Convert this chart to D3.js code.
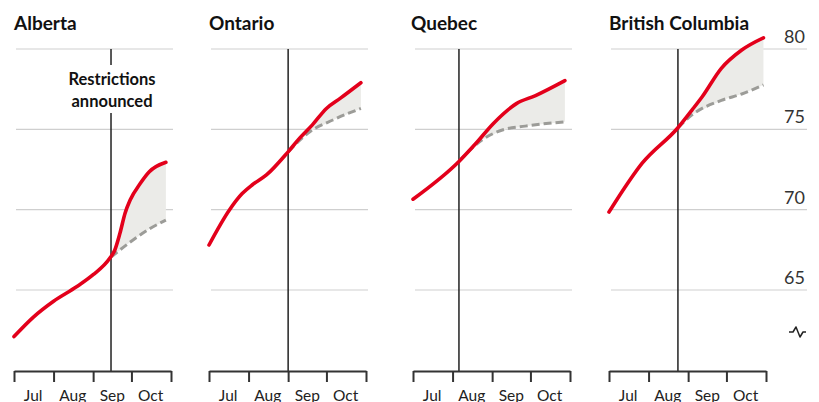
<!DOCTYPE html>
<html><head><meta charset="utf-8">
<script src="https://cdn.jsdelivr.net/npm/d3@7"></script>
<style>
body{margin:0;background:#fff;}
svg{display:block;}
</style></head>
<body>
<svg id="chart" width="819" height="402"></svg>
<script>
const provinces = ["Alberta", "Ontario", "Quebec", "British Columbia"];
const announceDates = ["2021-09-15", "2021-09-01", "2021-08-06", "2021-08-24"];
const monthLabels = ["Jul", "Aug", "Sep", "Oct"];
const yTicks = [65, 70, 75, 80];

const albertaActualDates = ["2021-07-01","2021-07-16","2021-08-01","2021-08-19","2021-09-01","2021-09-14","2021-09-18","2021-09-22","2021-09-26","2021-09-30","2021-10-08","2021-10-15","2021-10-28"];
const albertaActual = [62.1, 63.3, 64.3, 65.2, 65.95, 66.97, 67.49, 68.53, 69.78, 70.6, 71.64, 72.36, 72.95];
const albertaProjDates = ["2021-09-15","2021-10-02","2021-10-15","2021-10-28"];
const albertaProj = [67.05, 68.1, 68.8, 69.35];

const ontarioActualDates = ["2021-07-01","2021-07-17","2021-07-27","2021-08-04","2021-08-15","2021-09-01","2021-09-10","2021-09-20","2021-10-01","2021-10-12","2021-10-28"];
const ontarioActual = [67.8, 69.98, 71.0, 71.55, 72.16, 73.6, 74.45, 75.28, 76.3, 76.94, 77.9];
const ontarioProjDates = ["2021-09-01","2021-09-18","2021-10-06","2021-10-28"];
const ontarioProj = [73.6, 74.85, 75.58, 76.3];

const quebecActualDates = ["2021-07-01","2021-08-06","2021-08-19","2021-09-02","2021-09-20","2021-10-05","2021-10-28"];
const quebecActual = [70.65, 73.0, 74.1, 75.37, 76.6, 77.1, 78.03];
const quebecProjDates = ["2021-08-06","2021-08-24","2021-09-09","2021-09-27","2021-10-28"];
const quebecProj = [73.0, 74.34, 74.96, 75.2, 75.47];

const bcActualDates = ["2021-07-01","2021-07-07","2021-07-27","2021-08-24","2021-09-04","2021-09-12","2021-09-27","2021-10-13","2021-10-30"];
const bcActual = [69.85, 70.6, 72.89, 75.1, 76.2, 77.03, 78.8, 79.94, 80.7];
const bcProjDates = ["2021-08-24","2021-09-04","2021-09-27","2021-10-13","2021-10-30"];
const bcProj = [75.1, 75.9, 76.8, 77.2, 77.76];

const actualDates = [albertaActualDates, ontarioActualDates, quebecActualDates, bcActualDates];
const actualVals = [albertaActual, ontarioActual, quebecActual, bcActual];
const projDates = [albertaProjDates, ontarioProjDates, quebecProjDates, bcProjDates];
const projVals = [albertaProj, ontarioProj, quebecProj, bcProj];

const parse = d3.timeParse("%Y-%m-%d");
const svg = d3.select("#chart");
const panelX = [14, 209, 413, 609];
const panelW = 157;
const y = d3.scaleLinear().domain([65, 80]).range([290, 49]);
const axisY = 371;
const monthStarts = ["2021-07-01","2021-08-01","2021-09-01","2021-10-01","2021-11-01"].map(parse);
const monthMids = ["2021-07-16","2021-08-16","2021-09-16","2021-10-16"].map(parse);

const titleFont = "Lato, 'Open Sans', sans-serif";

provinces.forEach((name, i) => {
  const x0 = panelX[i];
  const x = d3.scaleTime().domain([monthStarts[0], monthStarts[4]]).range([x0, x0 + panelW]);
  const g = svg.append("g");
  const gridRight = i === 3 ? 807 : x0 + panelW + 2;

  g.selectAll(".grid").data(yTicks).join("line")
    .attr("x1", x0 + 2).attr("x2", gridRight)
    .attr("y1", d => y(d)).attr("y2", d => y(d))
    .attr("stroke", "#cfcfcf").attr("stroke-width", 1.2);

  const act = actualDates[i].map((d, k) => ({date: parse(d), v: actualVals[i][k]}));
  const proj = projDates[i].map((d, k) => ({date: parse(d), v: projVals[i][k]}));
  const ann = parse(announceDates[i]);

  const actInterp = d3.scaleLinear().domain(act.map(d => +d.date)).range(act.map(d => d.v));
  const projInterp = d3.scaleLinear().domain(proj.map(d => +d.date)).range(proj.map(d => d.v));
  const t0 = +proj[0].date, t1 = +proj[proj.length - 1].date;
  const areaPts = d3.range(0, 61).map(k => {
    const t = t0 + (t1 - t0) * k / 60;
    return {date: new Date(t), lo: projInterp(t), hi: actInterp(t)};
  });
  g.append("path").datum(areaPts)
    .attr("d", d3.area().curve(d3.curveMonotoneX).x(d => x(d.date)).y0(d => y(d.lo)).y1(d => y(d.hi)))
    .attr("fill", "#ebebe8");

  if (i === 0) {
    g.append("line").attr("x1", x(ann)).attr("x2", x(ann)).attr("y1", y(80)).attr("y2", 65)
      .attr("stroke", "#222").attr("stroke-width", 1.5);
    g.append("line").attr("x1", x(ann)).attr("x2", x(ann)).attr("y1", 113).attr("y2", axisY)
      .attr("stroke", "#222").attr("stroke-width", 1.5);
    const t = g.append("text").attr("text-anchor", "middle")
      .attr("font-family", titleFont).attr("font-weight", 700).attr("font-size", 16.5).attr("fill", "#111");
    t.append("tspan").attr("x", x(ann) + 1).attr("y", 85).text("Restrictions");
    t.append("tspan").attr("x", x(ann) + 1).attr("y", 107).text("announced");
  } else {
    g.append("line").attr("x1", x(ann)).attr("x2", x(ann)).attr("y1", y(80)).attr("y2", axisY)
      .attr("stroke", "#222").attr("stroke-width", 1.5);
  }

  g.append("path").datum(proj)
    .attr("d", d3.line().curve(d3.curveMonotoneX).x(d => x(d.date)).y(d => y(d.v)))
    .attr("fill", "none").attr("stroke", "#9c9c98").attr("stroke-width", 3)
    .attr("stroke-dasharray", "8,4");

  g.append("path").datum(act)
    .attr("d", d3.line().curve(d3.curveMonotoneX).x(d => x(d.date)).y(d => y(d.v)))
    .attr("fill", "none").attr("stroke", "#e3001b").attr("stroke-width", 3.6)
    .attr("stroke-linecap", "round").attr("stroke-linejoin", "round");

  const ax = g.append("g").attr("transform", `translate(0,${axisY})`)
    .call(d3.axisBottom(x).tickValues(monthStarts).tickSize(11).tickSizeOuter(0).tickFormat(""));
  ax.select(".domain").attr("stroke", "#333").attr("stroke-width", 2);
  ax.selectAll(".tick line").attr("stroke", "#333").attr("stroke-width", 2);

  g.selectAll(".mlab").data(monthLabels).join("text")
    .attr("x", (d, k) => x(monthMids[k]))
    .attr("y", 400.5)
    .attr("text-anchor", "middle")
    .attr("font-family", titleFont).attr("font-size", 15.5).attr("fill", "#222")
    .text(d => d);

  g.append("text").attr("x", x0 + (i === 2 ? -2 : 0)).attr("y", 30)
    .attr("font-family", titleFont).attr("font-weight", 700).attr("font-size", 19).attr("fill", "#111")
    .text(name);
});

svg.selectAll(".ylab").data(yTicks).join("text")
  .attr("x", 805).attr("y", d => y(d) - 6)
  .attr("text-anchor", "end")
  .attr("font-family", titleFont).attr("font-weight", 400).attr("font-size", 18).attr("fill", "#333")
  .text(d => d);

svg.append("path")
  .attr("d", "M789,332 H793 L796,327 L800,337 L803,332 H806")
  .attr("fill", "none").attr("stroke", "#222").attr("stroke-width", 1.5)
  .attr("stroke-linejoin", "round");
</script>
</body></html>
